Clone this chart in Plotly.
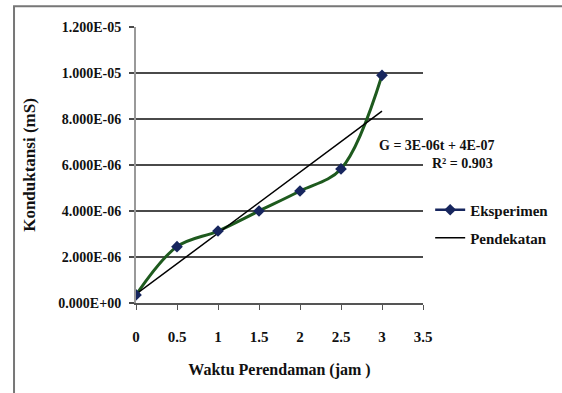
import numpy as np
import plotly.graph_objects as go

# Data
waktu = [0, 0.5, 1, 1.5, 2, 2.5, 3]
konduktansi = [0.35e-6, 2.45e-6, 3.13e-6, 4.0e-6, 4.87e-6, 5.83e-6, 9.9e-6]
y_tickvals = [0, 2e-6, 4e-6, 6e-6, 8e-6, 1e-5, 1.2e-5]
y_ticktext = ["0.000E+00", "2.000E-06", "4.000E-06", "6.000E-06", "8.000E-06", "1.000E-05", "1.200E-05"]
x_tickvals = [0, 0.5, 1, 1.5, 2, 2.5, 3, 3.5]
x_ticktext = ["0", "0.5", "1", "1.5", "2", "2.5", "3", "3.5"]
eq_text = "G = 3E-06t + 4E-07"
r2_text = "R² = 0.903"

# linear trend (Pendekatan)
slope, intercept = np.polyfit(waktu, konduktansi, 1)
trend_x = [waktu[0], waktu[-1]]
trend_y = [slope * x + intercept for x in trend_x]

FONT = "Liberation Serif"
GREEN = "#1e5a1e"
NAVY = "#17265e"

fig = go.Figure()
fig.add_trace(go.Scatter(
    x=waktu, y=konduktansi, mode="lines", line=dict(color=GREEN, width=3, shape="spline"),
    showlegend=False, hoverinfo="skip"))
fig.add_trace(go.Scatter(
    x=trend_x, y=trend_y, mode="lines", line=dict(color="black", width=1.5),
    showlegend=False))
fig.add_trace(go.Scatter(
    x=waktu, y=konduktansi, mode="markers",
    marker=dict(symbol="diamond", size=9, color=NAVY), showlegend=False))
# legend entries
fig.add_trace(go.Scatter(
    x=[None], y=[None], mode="lines+markers", name="Eksperimen", legend="legend",
    line=dict(color=NAVY, width=2.5), marker=dict(symbol="diamond", size=9, color=NAVY)))
fig.add_trace(go.Scatter(
    x=[None], y=[None], mode="lines", name="Pendekatan", legend="legend2",
    line=dict(color="black", width=1.5)))

legend_style = dict(xanchor="left", yanchor="middle",
                    font=dict(family=FONT, size=15, color="#111", weight="bold"),
                    bgcolor="rgba(0,0,0,0)", itemwidth=30, tracegroupgap=0)

fig.update_layout(
    width=562, height=393,
    margin=dict(l=136, r=139, t=27, b=90, autoexpand=False),
    paper_bgcolor="white", plot_bgcolor="white",
    font=dict(family=FONT, size=14, color="#111"),
    showlegend=True,
    legend=dict(x=1.025, y=(303 - 210) / 276, **legend_style),
    legend2=dict(x=1.025, y=(303 - 238) / 276, **legend_style),
    xaxis=dict(range=[0, 3.5], tickvals=x_tickvals, ticktext=x_ticktext,
               showgrid=False, zeroline=False, showline=True, linecolor="#555", linewidth=2,
               ticks="outside", ticklen=5, tickcolor="#555", tickwidth=1,
               ticklabelstandoff=14,
               tickfont=dict(family=FONT, size=15, weight="bold"),
               title=dict(text="Waktu Perendaman (jam )", standoff=20,
                          font=dict(family=FONT, size=16, weight="bold"))),
    yaxis=dict(range=[0, 1.2e-5], tickvals=y_tickvals, ticktext=y_ticktext,
               showgrid=True, gridcolor="#4a4a4a", gridwidth=2,
               zeroline=False, showline=True, linecolor="#999", linewidth=2,
               ticks="outside", ticklen=5, tickcolor="#4a4a4a", tickwidth=2,
               ticklabelstandoff=5,
               tickfont=dict(family=FONT, size=14, weight="bold"),
               title=dict(text="Konduktansi (mS)", standoff=18,
                          font=dict(family=FONT, size=17, weight="bold"))),
    annotations=[
        dict(xref="paper", yref="paper", x=1.258, y=0.569, text=eq_text, showarrow=False,
             font=dict(family=FONT, size=14, color="#111", weight="bold")),
        dict(xref="paper", yref="paper", x=1.251, y=0.507, text=r2_text, showarrow=False,
             font=dict(family=FONT, size=14, color="#111", weight="bold")),
    ],
    shapes=[
        dict(type="rect", xref="paper", yref="paper", x0=-0.425, x1=1.6, y0=1.075, y1=-0.4,
             line=dict(color="#777", width=2), fillcolor="rgba(0,0,0,0)", layer="above"),
    ],
)

fig.write_html("out.html", config={"displayModeBar": False},
               post_script="document.body.style.margin='0';")
